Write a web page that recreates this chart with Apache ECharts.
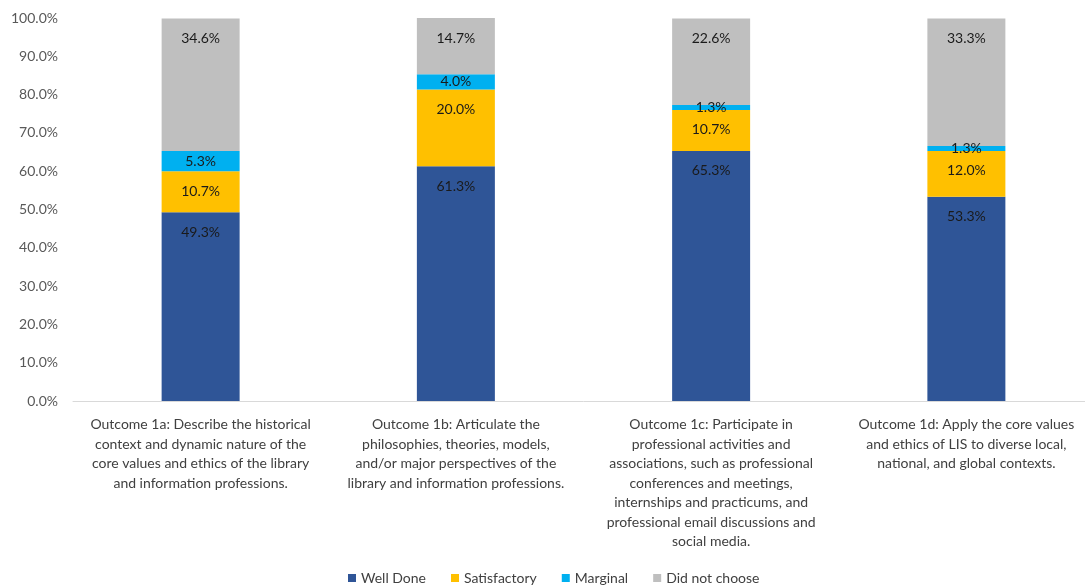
<!DOCTYPE html>
<html>
<head>
<meta charset="utf-8">
<script src="https://cdn.jsdelivr.net/npm/echarts@6/dist/echarts.min.js"></script>
<style>
html,body{margin:0;padding:0;background:#fff;overflow:hidden;width:1085px;height:586px;}
#chart{width:1100px;height:586px;}
</style>
</head>
<body>
<div id="chart"></div>
<script>
const categories = [
  "Outcome 1a: Describe the historical\ncontext and dynamic nature of the\ncore values and ethics of the library\nand information professions.",
  "Outcome 1b: Articulate the\nphilosophies, theories, models,\nand/or major perspectives of the\nlibrary and information professions.",
  "Outcome 1c: Participate in\nprofessional activities and\nassociations, such as professional\nconferences and meetings,\ninternships and practicums, and\nprofessional email discussions and\nsocial media.",
  "Outcome 1d: Apply the core values\nand ethics of LIS to diverse local,\nnational, and global contexts."
];
const seriesNames = ["Well Done", "Satisfactory", "Marginal", "Did not choose"];
const wellDone = [49.3, 61.3, 65.3, 53.3];
const satisfactory = [10.7, 20.0, 10.7, 12.0];
const marginal = [5.3, 4.0, 1.3, 1.3];
const didNotChoose = [34.6, 14.7, 22.6, 33.3];
const yTicks = { min: 0, max: 100, interval: 10 };

const colors = ["#2F5597", "#FFC000", "#00B0F0", "#BFBFBF"];
const FONT = "Lato, 'Open Sans', sans-serif";

function mkSeries(name, values, color) {
  return {
    name: name,
    type: 'bar',
    stack: 'total',
    barWidth: 78,
    itemStyle: { color: color },
    data: values.map(v => ({
      value: v,
      label: v < 8 ? { position: 'inside' } : { position: 'insideTop', distance: 13 }
    })),
    label: {
      show: true,
      color: '#1a1a1a',
      fontFamily: FONT,
      fontSize: 14,
      formatter: p => p.value.toFixed(1) + '%'
    }
  };
}

const chart = echarts.init(document.getElementById('chart'));
chart.setOption({
  animation: false,
  color: colors,
  textStyle: { fontFamily: FONT },
  grid: { left: 73, top: 18, bottom: 185, width: 1021 },
  legend: {
    top: 571,
    left: 348,
    padding: 0,
    itemWidth: 8,
    itemHeight: 8,
    itemGap: 25,
    icon: 'rect',
    textStyle: { color: '#404040', fontSize: 14, fontFamily: FONT },
    data: seriesNames
  },
  xAxis: {
    type: 'category',
    data: categories,
    axisLine: { lineStyle: { color: '#D9D9D9' } },
    axisTick: { show: false },
    axisLabel: {
      interval: 0,
      color: '#404040',
      fontSize: 14,
      lineHeight: 19.5,
      fontFamily: FONT,
      margin: 14
    }
  },
  yAxis: {
    type: 'value',
    min: yTicks.min,
    max: yTicks.max,
    interval: yTicks.interval,
    splitLine: { show: false },
    axisLine: { show: false },
    axisTick: { show: false },
    axisLabel: {
      color: '#595959',
      fontSize: 14,
      fontFamily: FONT,
      margin: 15,
      formatter: v => v.toFixed(1) + '%'
    }
  },
  series: [
    mkSeries(seriesNames[0], wellDone, colors[0]),
    mkSeries(seriesNames[1], satisfactory, colors[1]),
    mkSeries(seriesNames[2], marginal, colors[2]),
    mkSeries(seriesNames[3], didNotChoose, colors[3])
  ]
});
</script>
</body>
</html>
